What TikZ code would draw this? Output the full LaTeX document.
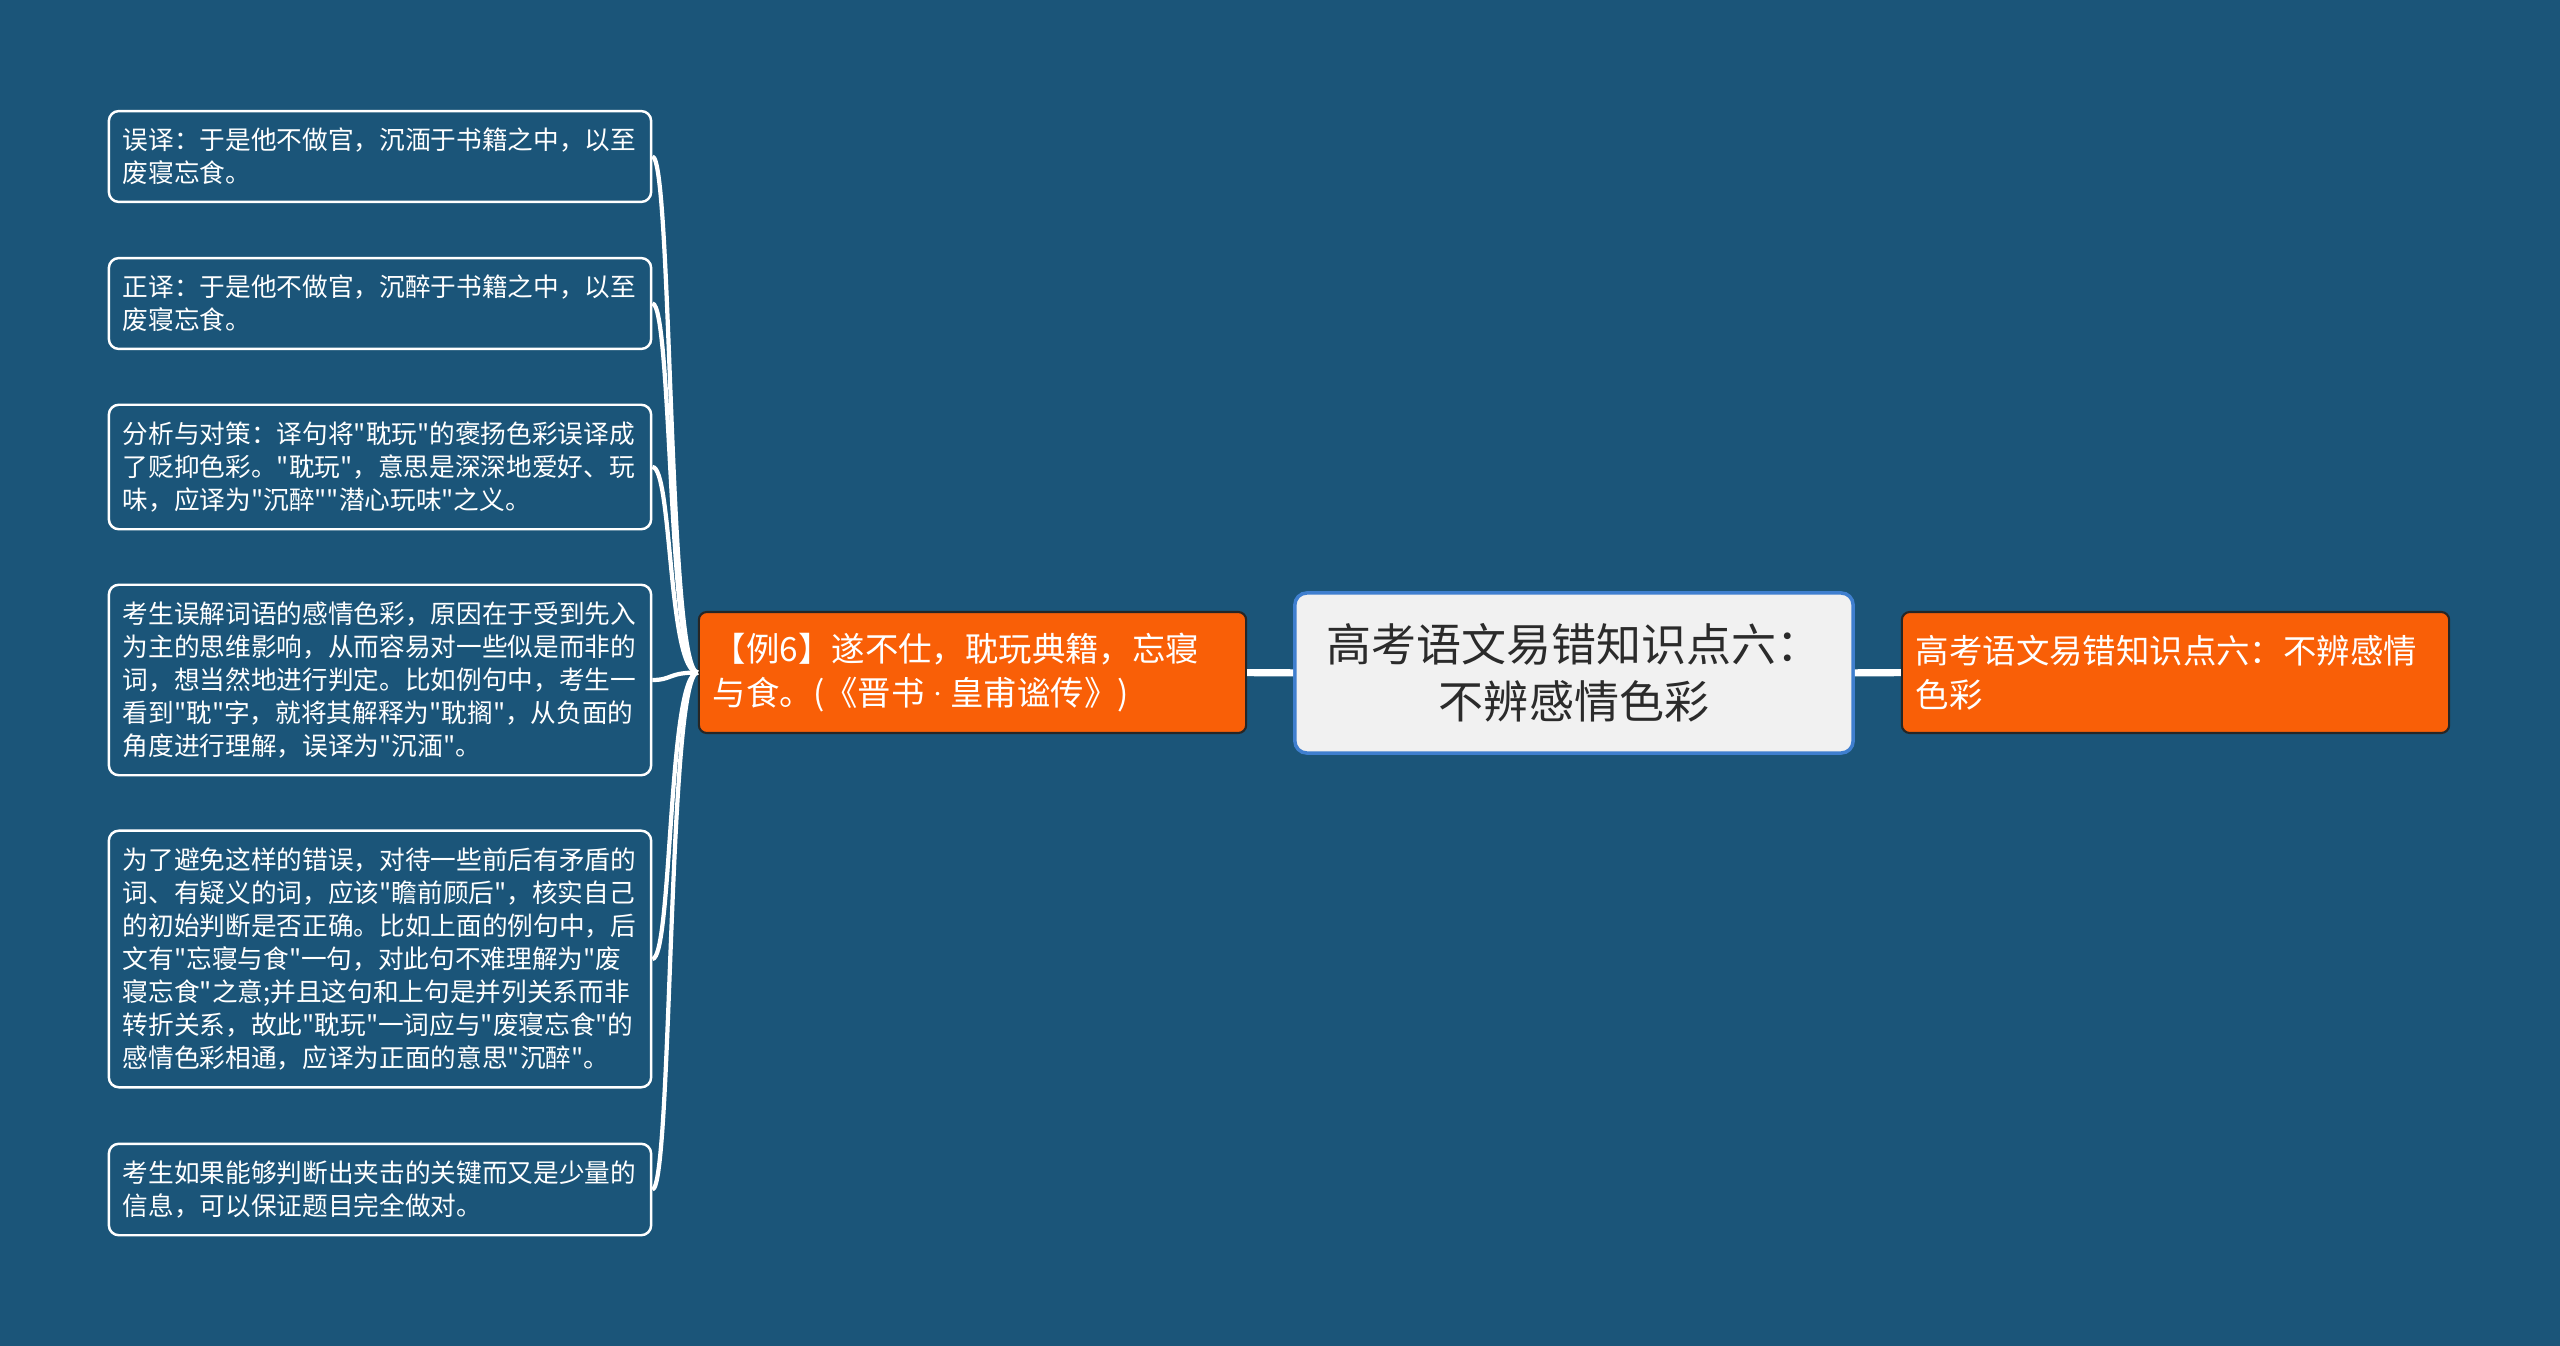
\documentclass[tikz,border=0pt]{standalone}
\usepackage{fontspec}
\newfontfamily\cjk{Noto Sans CJK SC}
\usetikzlibrary{positioning}
\definecolor{fundo}{HTML}{1B5579}
\definecolor{laranja}{HTML}{F95F07}
\definecolor{cinza}{HTML}{F1F1F1}
\definecolor{azulborda}{HTML}{3F7FCF}
\definecolor{textoescuro}{HTML}{2B2B2B}

\begin{document}
\begin{tikzpicture}[
    x=0.01cm,
    y=-0.01cm,
    folha/.style={
    draw=white,
    rounded corners=0.1cm,
    line width=0.7pt,
    fill=fundo,
    text=white,
    align=left,
    text width=5.14cm,
    inner xsep=0.14cm,
    inner ysep=0.17cm,
    font=\cjk\fontsize{7.3pt}{9.39pt}\selectfont
    },
    ramo/.style={
    draw=black!85,
    rounded corners=0.08cm,
    line width=0.6pt,
    fill=laranja,
    text=white,
    align=left,
    text width=5.19cm,
    inner xsep=0.14cm,
    minimum height=1.21cm,
    font=\cjk\fontsize{9.5pt}{12.5pt}\selectfont
    },
    raiz/.style={
    draw=azulborda,
    rounded corners=0.12cm,
    line width=1pt,
    fill=cinza,
    text=textoescuro,
    align=center,
    minimum width=5.58cm,
    minimum height=1.6cm,
    font=\cjk\fontsize{12.8pt}{16.2pt}\selectfont
    },
    tronco/.style={draw=white,line width=2pt},
    galho/.style={draw=white,line width=1.2pt}
    ]

    \useasboundingbox[fill=fundo] (0,0) rectangle (2560,1346);

    \node[raiz] (centro) at (1574,673)
    {高考语文易错知识点六：\\不辨感情色彩};

    \node[ramo] (exemplo) at (972.5,672.5)
    {【例6】遂不仕，耽玩典籍，忘寝\\与食。(《晋书{\normalfont·}皇甫谧传》)};

    \node[ramo] (titulo) at (2175.5,672.5)
    {高考语文易错知识点六：不辨感情\\色彩};

    \node[folha] (f1) at (380,156.5)
    {误译：于是他不做官，沉湎于书籍之中，以至\\废寝忘食。};

    \node[folha] (f2) at (380,303.5)
    {正译：于是他不做官，沉醉于书籍之中，以至\\废寝忘食。};

    \node[folha] (f3) at (380,467)
    {分析与对策：译句将"耽玩"的褒扬色彩误译成\\了贬抑色彩。"耽玩"，意思是深深地爱好、玩\\味，应译为"沉醉""潜心玩味"之义。};

    \node[folha] (f4) at (380,680)
    {考生误解词语的感情色彩，原因在于受到先入\\为主的思维影响，从而容易对一些似是而非的\\词，想当然地进行判定。比如例句中，考生一\\看到"耽"字，就将其解释为"耽搁"，从负面的\\角度进行理解，误译为"沉湎"。};

    \node[folha] (f5) at (380,959)
    {为了避免这样的错误，对待一些前后有矛盾的\\词、有疑义的词，应该"瞻前顾后"，核实自己\\的初始判断是否正确。比如上面的例句中，后\\文有"忘寝与食"一句，对此句不难理解为"废\\寝忘食"之意;并且这句和上句是并列关系而非\\转折关系，故此"耽玩"一词应与"废寝忘食"的\\感情色彩相通，应译为正面的意思"沉醉"。};

    \node[folha] (f6) at (380,1189.5)
    {考生如果能够判断出夹击的关键而又是少量的\\信息，可以保证题目完全做对。};

    \draw[tronco] (exemplo) -- (centro);
    \draw[tronco] (centro) -- (titulo);

    \foreach \f in {f1,f2,f3,f4,f5,f6}
    \draw[galho] (\f.east) .. controls +(20,0) and +(-30,0) .. (exemplo.west);

\end{tikzpicture}
\end{document}
